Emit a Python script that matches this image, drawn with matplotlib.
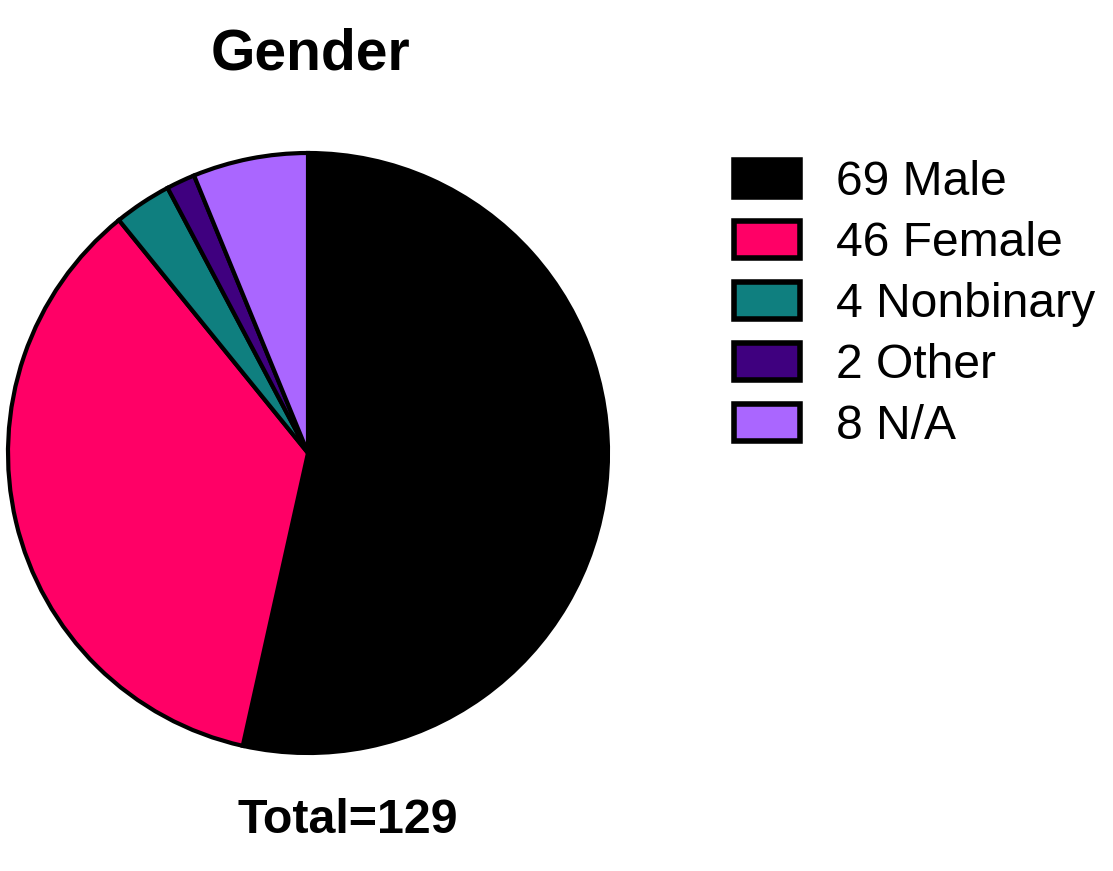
import matplotlib.pyplot as plt

# Data
labels = ['Male', 'Female', 'Nonbinary', 'Other', 'N/A']
counts = [69, 46, 4, 2, 8]
colors = ['#000000', '#FF0066', '#0F7F7F', '#3F007F', '#AA66FF']

plt.rcParams['font.family'] = ['Liberation Sans', 'DejaVu Sans']

W, H = 1113, 871
fig = plt.figure(figsize=(W / 100, H / 100), dpi=100)

# pie axes placed in pixel terms: center (308, 453), radius 303
cx, cy, r = 308, 453, 303
ax = fig.add_axes([(cx - r) / W, (H - cy - r) / H, 2 * r / W, 2 * r / H])
wedges, _ = ax.pie(counts, colors=colors, startangle=90, counterclock=False,
                   radius=1, wedgeprops=dict(edgecolor='black', linewidth=3))
ax.set_xlim(-1.01, 1.01)
ax.set_ylim(-1.01, 1.01)
ax.set_aspect('equal')
ax.axis('off')

fig.text(310 / W, 1 - 55 / H, 'Gender', ha='center', va='center',
         fontsize=41, fontweight='bold')
fig.text(348 / W, 1 - 820 / H, f'Total={sum(counts)}', ha='center', va='center',
         fontsize=34.8, fontweight='bold')

leg_labels = [f'{c} {l}' for c, l in zip(counts, labels)]
leg = fig.legend(wedges, leg_labels, loc='upper left',
                 bbox_to_anchor=(734 / W, 1 - 160 / H), frameon=False,
                 fontsize=34.6, handlelength=1.38, handleheight=0.8,
                 handletextpad=0.75, labelspacing=0.33, borderpad=0,
                 borderaxespad=0)
for p in leg.get_patches():
    p.set_linewidth(4)

fig.savefig('out.png', dpi=100)
